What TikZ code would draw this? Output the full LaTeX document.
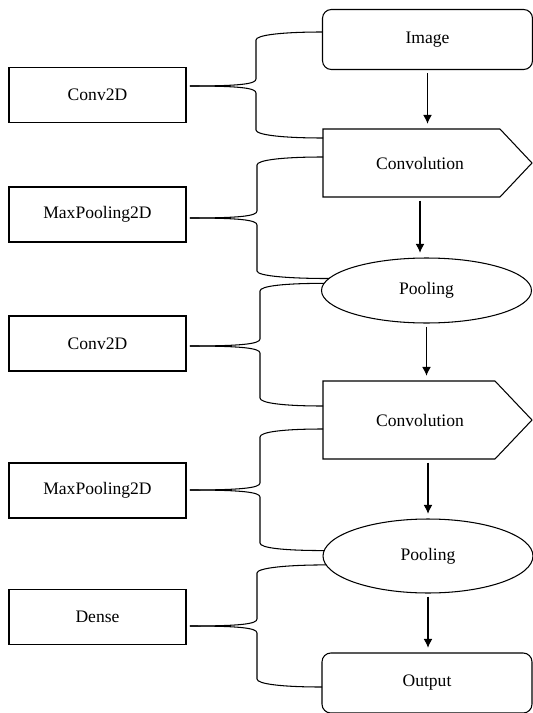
\documentclass[tikz,border=0pt]{standalone}
\usepackage{fontspec}
\setmainfont{Liberation Serif}
\usetikzlibrary{shapes.geometric,calc,arrows.meta}

\begin{document}
\begin{tikzpicture}[x=0.02cm,y=0.02cm,line width=0.6pt,
    layer/.style={draw, minimum width=3.54cm, minimum height=1.1cm, outer sep=0pt},
    terminal/.style={draw, rounded corners=5pt, minimum width=4.2cm, minimum height=1.2cm, outer sep=0pt},
    convstage/.style={minimum width=3.88cm, outer sep=0pt},
    poolstage/.style={draw, ellipse, minimum width=4.2cm, outer sep=0pt},
    flow/.style={-{Latex[length=5pt,width=5pt]}, shorten <=2pt, shorten >=3pt},
    arm/.style={line width=0.6pt}]
\useasboundingbox (0,0) rectangle (533,-713);

% keras layers on the left
\node[layer] (cv1) at (97.5,-95)  {Conv2D};
\node[layer] (mp1) at (97.5,-214.5) {MaxPooling2D};
\node[layer] (cv2) at (97.5,-343.5) {Conv2D};
\node[layer] (mp2) at (97.5,-490.5) {MaxPooling2D};
\node[layer] (dn)  at (97.5,-617) {Dense};

% network stages on the right
\node[terminal] (img) at (427.5,-39.5) {Image};
\node[convstage, minimum height=1.36cm] (conv1) at (420,-163) {Convolution};
\node[poolstage, minimum height=1.3cm] (pool1) at (426.5,-290.5) {Pooling};
\node[convstage, minimum height=1.56cm] (conv2) at (420,-420) {Convolution};
\node[poolstage, minimum height=1.48cm] (pool2) at (428,-556) {Pooling};
\node[terminal] (out) at (427,-683) {Output};

\draw (conv1.north west) -- ($(conv1.north east)+(-17,0)$) -- ($(conv1.east)+(15,0)$)
      -- ($(conv1.south east)+(-17,0)$) -- (conv1.south west) -- cycle;
\draw (conv2.north west) -- ($(conv2.north east)+(-22,0)$) -- ($(conv2.east)+(15,0)$)
      -- ($(conv2.south east)+(-22,0)$) -- (conv2.south west) -- cycle;

% flow
\draw[flow] (img.south) -- (img.south |- conv1.north);
\draw[flow] (conv1.south) -- (conv1.south |- pool1.north);
\draw[flow] (pool1.south) -- (pool1.south |- conv2.north);
\draw[flow] (pool2.north |- conv2.south) -- (pool2.north);
\draw[flow] (pool2.south) -- (pool2.south |- out.north);

% braces
\draw[arm] ($(cv1.east)+(4,9)$) .. controls +(50,0) and +(0,-5) .. (256,-79) -- (256,-40)
      .. controls +(0,5) and +(-40,0) .. ($(img.west)+(0,7.5)$);
\draw[arm] ($(cv1.east)+(4,9)$) .. controls +(50,0) and +(0,5) .. (256,-93) -- (256,-130)
      .. controls +(0,-5) and +(-40,0) .. ($(conv1.west)+(0,25)$);

\draw[arm] ($(mp1.east)+(4,-3.5)$) .. controls +(50,0) and +(0,-5) .. (257,-211) -- (257,-165)
      .. controls +(0,5) and +(-40,0) .. ($(conv1.west)+(0,6)$);
\draw[arm] ($(mp1.east)+(4,-3.5)$) .. controls +(50,0) and +(0,5) .. (257,-225) -- (257,-271)
      .. controls +(0,-5) and +(-40,0) .. (pool1.173);

\draw[arm] ($(cv2.east)+(4,-2.5)$) .. controls +(50,0) and +(0,-5) .. (260,-339) -- (260,-291)
      .. controls +(0,5) and +(-40,0) .. (pool1.176);
\draw[arm] ($(cv2.east)+(4,-2.5)$) .. controls +(50,0) and +(0,5) .. (260,-353) -- (260,-398)
      .. controls +(0,-5) and +(-40,0) .. ($(conv2.west)+(0,14)$);

\draw[arm] ($(mp2.east)+(4,0.5)$) .. controls +(50,0) and +(0,-5) .. (260,-483) -- (260,-437)
      .. controls +(0,5) and +(-40,0) .. ($(conv2.west)+(0,-9)$);
\draw[arm] ($(mp2.east)+(4,0.5)$) .. controls +(50,0) and +(0,5) .. (260,-497) -- (260,-543)
      .. controls +(0,-5) and +(-40,0) .. (pool2.177);

\draw[arm] ($(dn.east)+(4,-9)$) .. controls +(50,0) and +(0,-5) .. (257,-619) -- (257,-573)
      .. controls +(0,5) and +(-40,0) .. (pool2.185);
\draw[arm] ($(dn.east)+(4,-9)$) .. controls +(50,0) and +(0,5) .. (257,-633) -- (257,-679)
      .. controls +(0,-5) and +(-40,0) .. ($(out.west)+(0,-4)$);
\end{tikzpicture}
\end{document}
